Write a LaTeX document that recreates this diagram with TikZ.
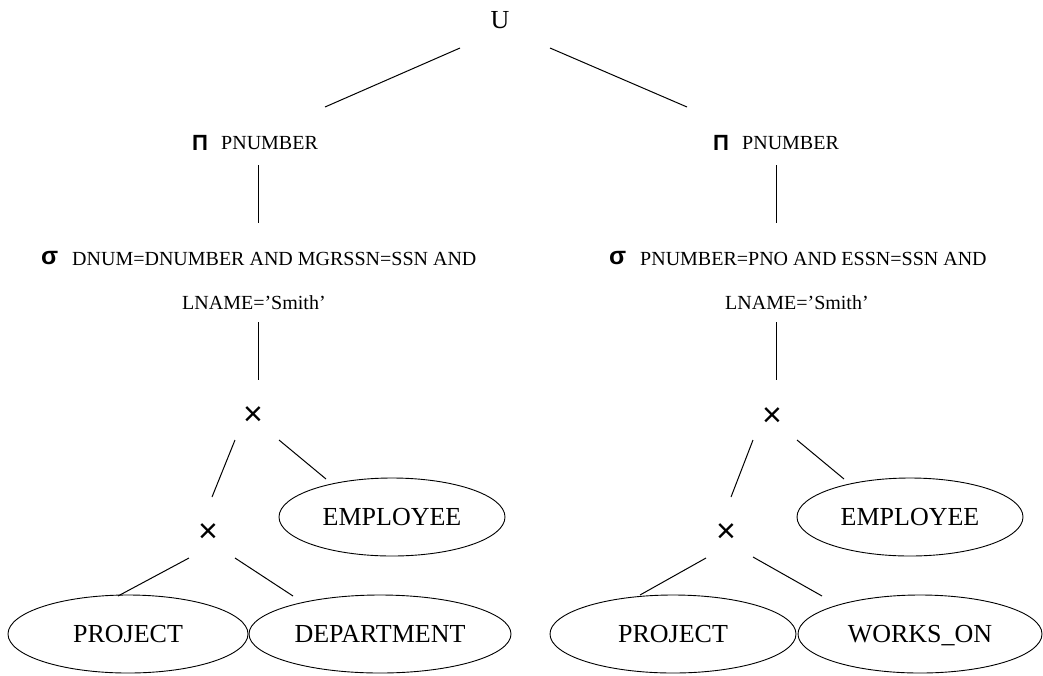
\documentclass[tikz,border=0pt]{standalone}
\usepackage{fontspec}
\setmainfont{Liberation Serif}
\newfontfamily\symf{Liberation Sans}
\usetikzlibrary{shapes.geometric}
\begin{document}
\begin{tikzpicture}[x=1pt,y=-1pt,
 lbl/.style={inner sep=0pt, font=\fontsize{20}{24}\selectfont, anchor=west},
 opsym/.style={inner sep=0pt, font=\symf\bfseries\fontsize{22}{26}\selectfont, anchor=west},
 sigsym/.style={inner sep=0pt, font=\symf\bfseries\fontsize{25}{28}\selectfont, anchor=west},
 cross/.style={inner sep=0pt, font=\symf\fontsize{34}{38}\selectfont},
 rel/.style={draw, ellipse, line width=0.9pt, inner sep=0pt, minimum height=78pt,
   text height=17pt, text depth=0pt, font=\fontsize{26}{30}\selectfont},
 edge/.style={line width=1pt}]
\useasboundingbox (0,0) rectangle (1043,675);
% root
\node[inner sep=0pt,font=\fontsize{26}{30}\selectfont] (U) at (500,20) {U};
% ---------- left branch ----------
\node[opsym] (pi1) at (192,143) {Π};
\node[lbl] (pn1) at (221,143) {PNUMBER};
\node[sigsym] (sg1) at (41,258) {σ};
\node[lbl] (sc1a) at (72,259) {DNUM=DNUMBER AND MGRSSN=SSN AND};
\node[lbl] (sc1b) at (182,303) {LNAME='Smith'};
\node[cross] (x1) at (253,416) {×};
\node[cross] (x2) at (208,533) {×};
\node[rel, minimum width=226pt] (emp1) at (392,517) {EMPLOYEE};
\node[rel, minimum width=240pt] (proj1) at (128,634) {PROJECT};
\node[rel, minimum width=262pt] (dept) at (380,634) {DEPARTMENT};
% ---------- right branch ----------
\node[opsym] (pi2) at (713,143) {Π};
\node[lbl] (pn2) at (742,143) {PNUMBER};
\node[sigsym] (sg2) at (609,258) {σ};
\node[lbl] (sc2a) at (640,259) {PNUMBER=PNO AND ESSN=SSN AND};
\node[lbl] (sc2b) at (725,303) {LNAME='Smith'};
\node[cross] (x3) at (772,417) {×};
\node[cross] (x4) at (726,533) {×};
\node[rel, minimum width=226pt] (emp2) at (910,517) {EMPLOYEE};
\node[rel, minimum width=246pt] (proj2) at (673,634) {PROJECT};
\node[rel, minimum width=244pt] (works) at (920,634) {WORKS\_ON};
% connector end points
\coordinate (uL) at (460,48);  \coordinate (pL) at (325,107);
\coordinate (uR) at (550,48);  \coordinate (pR) at (687,107);
\coordinate (a1) at (258,165); \coordinate (a2) at (258,223);
\coordinate (a3) at (258,322); \coordinate (a4) at (258,380);
\coordinate (b1) at (235,440); \coordinate (b2) at (212,497);
\coordinate (b3) at (279,440); \coordinate (b4) at (326,479);
\coordinate (c1) at (189,558); \coordinate (c2) at (118,596);
\coordinate (c3) at (235,558); \coordinate (c4) at (293,596);
\coordinate (d1) at (776,165); \coordinate (d2) at (776,223);
\coordinate (d3) at (776,322); \coordinate (d4) at (776,380);
\coordinate (e1) at (753,440); \coordinate (e2) at (731,497);
\coordinate (e3) at (797,440); \coordinate (e4) at (844,479);
\coordinate (f1) at (706,558); \coordinate (f2) at (640,595);
\coordinate (f3) at (753,557); \coordinate (f4) at (822,596);
\draw[edge] (uL) -- (pL);
\draw[edge] (uR) -- (pR);
\draw[edge] (a1) -- (a2);
\draw[edge] (a3) -- (a4);
\draw[edge] (b1) -- (b2);
\draw[edge] (b3) -- (b4);
\draw[edge] (c1) -- (c2);
\draw[edge] (c3) -- (c4);
\draw[edge] (d1) -- (d2);
\draw[edge] (d3) -- (d4);
\draw[edge] (e1) -- (e2);
\draw[edge] (e3) -- (e4);
\draw[edge] (f1) -- (f2);
\draw[edge] (f3) -- (f4);
\end{tikzpicture}
\end{document}
